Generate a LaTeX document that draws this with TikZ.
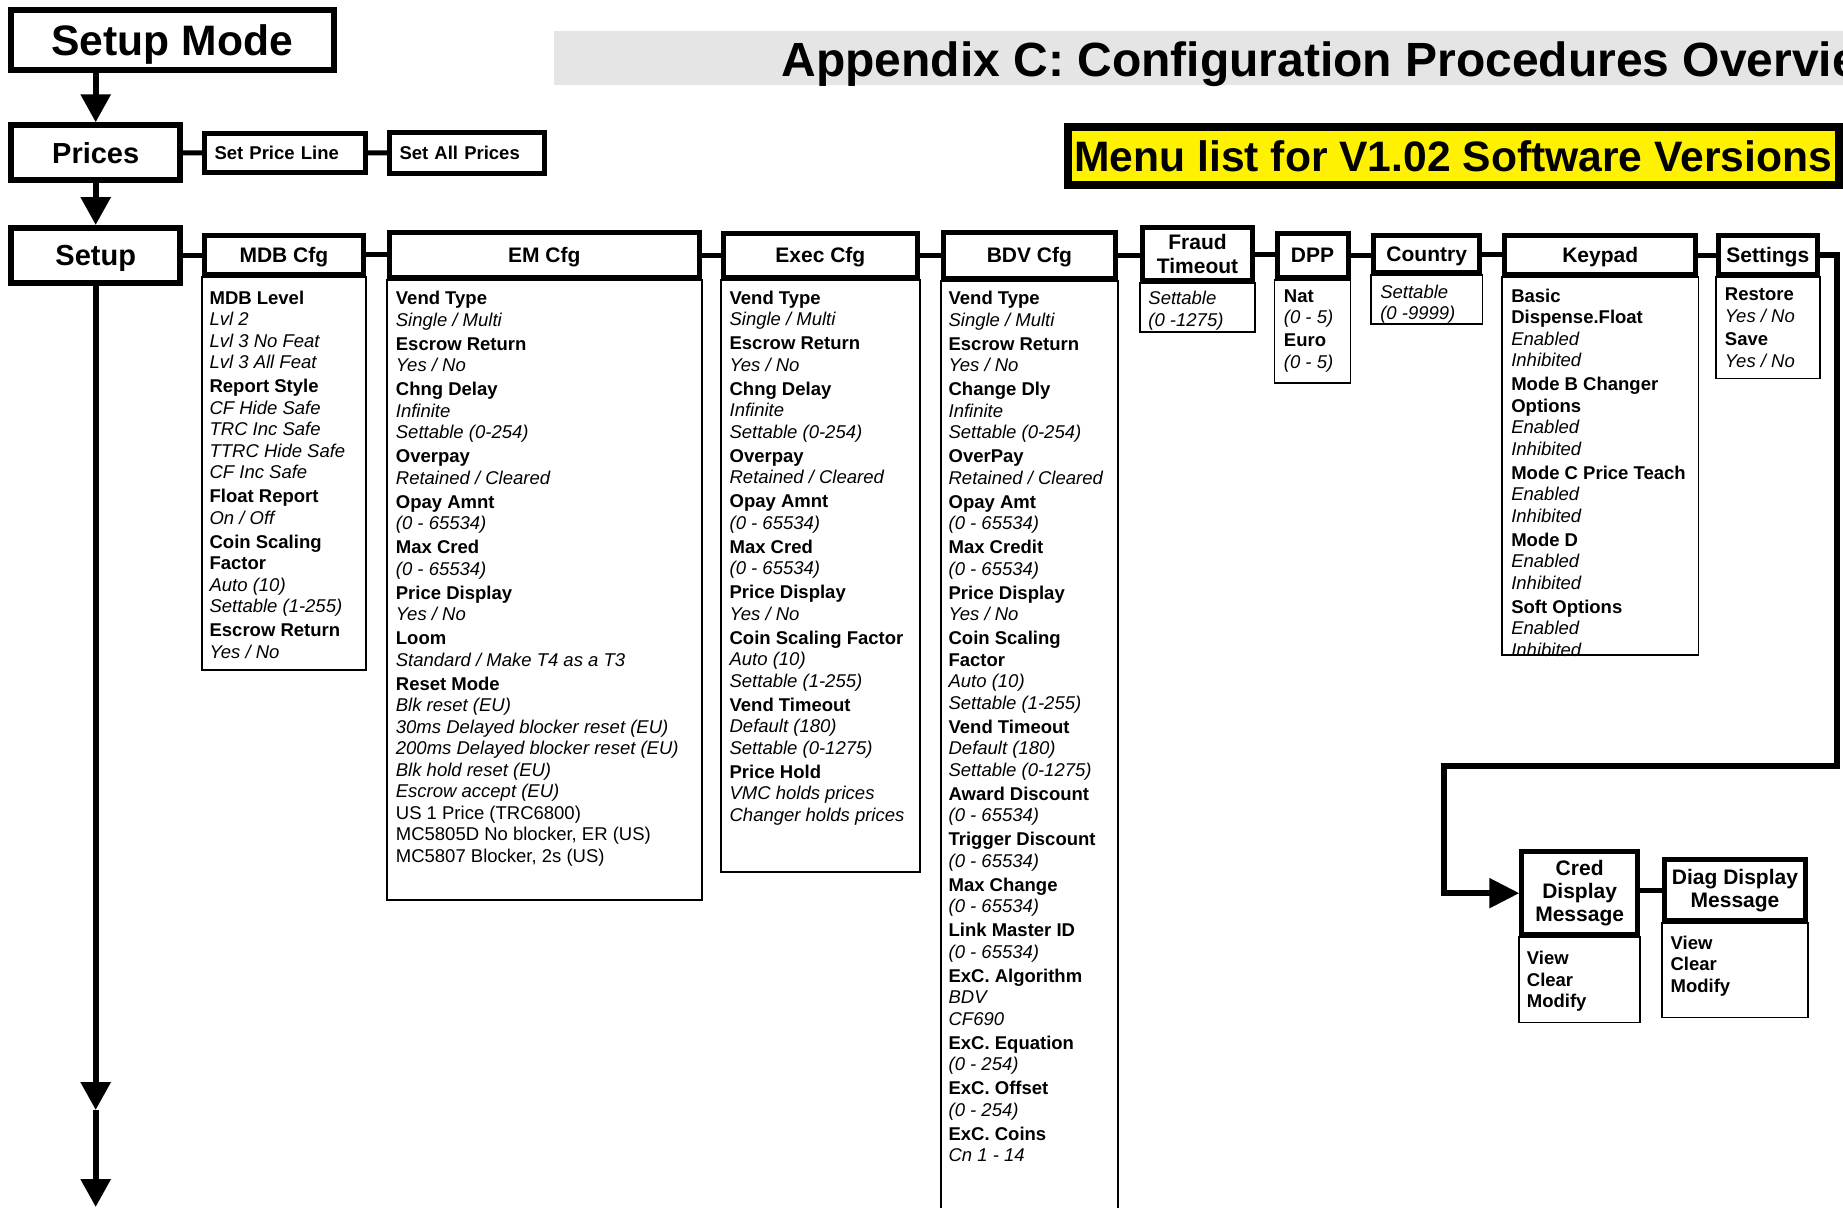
\documentclass[tikz,border=0pt]{standalone}
\usepackage{fontspec}
\setmainfont{Liberation Sans}
\usetikzlibrary{arrows.meta,positioning}

\newcommand{\mkey}[1]{\textbf{#1}}
\newcommand{\mval}[1]{\textit{#1}}

\tikzset{
  bigbox/.style={draw, line width=3pt, inner sep=0pt,
                 font=\bfseries\fontsize{14.5}{17}\selectfont, text height=10.4pt, text depth=0pt},
  hdr/.style={draw, line width=2.5pt, inner sep=0pt, align=center,
              font=\bfseries\fontsize{10.5}{11.7}\selectfont},
  oneline/.style={text height=7.5pt, text depth=0pt},
  sub/.style={draw, line width=2.5pt, inner xsep=5pt, inner ysep=0pt, align=left,
              font=\bfseries\fontsize{9.25}{10.75}\selectfont, text height=6.6pt, text depth=0pt},
  list/.style={inner sep=0pt, align=left, font=\fontsize{9.25}{10.75}\selectfont},
  bodybox/.style={draw, line width=0.85pt},
  link/.style={line width=2.5pt},
  arr/.style={line width=3pt, -{Triangle[width=14.5pt,length=14pt]}}
}

\begin{document}
\begin{tikzpicture}[x=0.5pt, y=-0.5pt]
  \useasboundingbox (0,0) rectangle (1843,1207);
  \clip (0,0) rectangle (1843,1207);

  % heading
  \node[fill=gray!20, minimum width=660pt, minimum height=27pt, inner sep=0pt, anchor=north west] (bar) at (554,31) {};
  \node[font=\bfseries\fontsize{24}{28}\selectfont, inner sep=0pt, anchor=base west] (title) at (781,76) {Appendix C: Configuration Procedures Overview};
  \node[draw, line width=4pt, fill=yellow, minimum width=385.75pt, minimum height=29pt, inner sep=0pt,
        font=\bfseries\fontsize{21.3}{25}\selectfont, text height=15.25pt, text depth=0pt] (menu) at (1453.25,156.3) {Menu list for V1.02 Software Versions};

  % main column
  \node[bigbox, font=\bfseries\fontsize{21.3}{25}\selectfont, text height=15.25pt,
        minimum width=161.5pt, minimum height=29.7pt] (mode) at (172.25,40) {Setup Mode};
  \node[bigbox, minimum width=84.3pt, minimum height=27.5pt] (prices) at (95.7,152.8) {Prices};
  \node[bigbox, minimum width=84.3pt, minimum height=27.5pt] (setup) at (95.7,255.5) {Setup};
  \node[sub, text width=70.5pt, minimum height=19.65pt] (spl) at (285,152.85) {Set Price Line};
  \node[sub, text width=67.5pt, minimum height=20.5pt] (sap) at (467,153) {Set All Prices};
  \coordinate (down1) at (95.7,1110);
  \coordinate (down2) at (95.7,1207);

  \draw[arr] (prices.north |- mode.south) -- (prices.north);
  \draw[arr] (prices) -- (setup);
  \draw[arr] (setup) -- (down1);
  \draw[arr] (down1) -- (down2);
  \draw[link] (prices) -- (spl);
  \draw[link] (spl) -- (sap);

  % setup menus
  \node[hdr, oneline, minimum width=79.65pt, minimum height=19.65pt] (mdb) at (283.85,254.85) {MDB Cfg};
  \node[hdr, oneline, minimum width=155pt, minimum height=22.5pt] (em) at (544.2,255) {EM Cfg};
  \node[hdr, oneline, minimum width=97.15pt, minimum height=22.15pt] (exec) at (820.35,255.35) {Exec Cfg};
  \node[hdr, oneline, minimum width=86.15pt, minimum height=22.85pt] (bdv) at (1029.35,255.35) {BDV Cfg};
  \node[hdr, minimum width=55pt, minimum height=26.65pt] (fraud) at (1197.5,254.15) {Fraud\\Timeout};
  \node[hdr, oneline, minimum width=35.45pt, minimum height=22.15pt] (dpp) at (1312.55,255.35) {DPP};
  \node[hdr, oneline, minimum width=53.2pt, minimum height=18.35pt] (country) at (1426.7,254.15) {Country};
  \node[hdr, oneline, minimum width=95.7pt, minimum height=19.5pt] (keypad) at (1600.2,255.3) {Keypad};
  \node[hdr, oneline, minimum width=49.6pt, minimum height=19.2pt] (settings) at (1767.8,255) {Settings};
  \node[hdr, minimum width=57.85pt, minimum height=41.65pt] (cred) at (1579.65,893.15) {Cred\\Display\\Message};
  \node[hdr, minimum width=70.8pt, minimum height=30.5pt] (diag) at (1735,890.3) {Diag Display\\Message};

  \draw[link] (setup.east) -- (setup.east -| mdb.west);
  \draw[link] (mdb.east) -- (mdb.east -| em.west);
  \draw[link] (em.east) -- (em.east -| exec.west);
  \draw[link] (exec.east) -- (exec.east -| bdv.west);
  \draw[link] (bdv.east) -- (bdv.east -| fraud.west);
  \draw[link] (fraud.east) -- (fraud.east -| dpp.west);
  \draw[link] (dpp.east) -- (dpp.east -| country.west);
  \draw[link] (country.east) -- (country.east -| keypad.west);
  \draw[link] (keypad.east) -- (keypad.east -| settings.west);
  \draw[link] (cred.east |- diag.west) -- (diag.west);

  % settings wraps round to the display messages
  \coordinate (turnr) at (1837,766);
  \coordinate (turnl) at (1444,766);
  \draw[link, line width=2.75pt, -{Triangle[width=14.5pt,length=15pt]}]
    (settings.east) -| (turnr) -- (turnl) |- (cred.west);

  % option frames
  \draw[bodybox] (mdb.south west) rectangle (mdb.south east |- 0,670);
  \draw[bodybox] (em.south west) rectangle (em.south east |- 0,900);
  \draw[bodybox] (exec.south west) rectangle (exec.south east |- 0,872);
  \draw[bodybox] (bdv.south west) rectangle (bdv.south east |- 0,1230);
  \draw[bodybox] (fraud.south west) rectangle (fraud.south east |- 0,332);
  \draw[bodybox] (dpp.south west) rectangle (dpp.south east |- 0,383);
  \draw[bodybox] (country.south west) rectangle (country.south east |- 0,324);
  \draw[bodybox] (keypad.south west) rectangle (keypad.south east |- 0,655);
  \draw[bodybox] (settings.south west) rectangle (settings.south east |- 0,378.5);
  \draw[bodybox] (cred.south west) rectangle (cred.south east |- 0,1022.5);
  \draw[bodybox] (diag.south west) rectangle (diag.south east |- 0,1017.5);

  % option lists
  \node[list, below right=6.6pt and 3.75pt of mdb.south west] (mdblist) {\mkey{MDB Level}\\ \mval{Lvl 2}\\ \mval{Lvl 3 No Feat}\\ \mval{Lvl 3 All Feat}\\[1.25pt]
    \mkey{Report Style}\\ \mval{CF Hide Safe}\\ \mval{TRC Inc Safe}\\ \mval{TTRC Hide Safe}\\ \mval{CF Inc Safe}\\[1.25pt]
    \mkey{Float Report}\\ \mval{On / Off}\\[1.25pt]
    \mkey{Coin Scaling}\\ \mkey{Factor}\\ \mval{Auto (10)}\\ \mval{Settable (1-255)}\\[1.25pt]
    \mkey{Escrow Return}\\ \mval{Yes / No}};
  \node[list, below right=5.35pt and 4.4pt of em.south west] (emlist) {\mkey{Vend Type}\\ \mval{Single / Multi}\\[1.25pt]
    \mkey{Escrow Return}\\ \mval{Yes / No}\\[1.25pt]
    \mkey{Chng Delay}\\ \mval{Infinite}\\ \mval{Settable (0-254)}\\[1.25pt]
    \mkey{Overpay}\\ \mval{Retained / Cleared}\\[1.25pt]
    \mkey{Opay Amnt}\\ \mval{(0 - 65534)}\\[1.25pt]
    \mkey{Max Cred}\\ \mval{(0 - 65534)}\\[1.25pt]
    \mkey{Price Display}\\ \mval{Yes / No}\\[1.25pt]
    \mkey{Loom}\\ \mval{Standard / Make T4 as a T3}\\[1.25pt]
    \mkey{Reset Mode}\\ \mval{Blk reset (EU)}\\ \mval{30ms Delayed blocker reset (EU)}\\ \mval{200ms Delayed blocker reset (EU)}\\
    \mval{Blk hold reset (EU)}\\ \mval{Escrow accept (EU)}\\ US 1 Price (TRC6800)\\ MC5805D No blocker, ER (US)\\ MC5807 Blocker, 2s (US)};
  \node[list, below right=5.1pt and 4.25pt of exec.south west] (execlist) {\mkey{Vend Type}\\ \mval{Single / Multi}\\[1.25pt]
    \mkey{Escrow Return}\\ \mval{Yes / No}\\[1.25pt]
    \mkey{Chng Delay}\\ \mval{Infinite}\\ \mval{Settable (0-254)}\\[1.25pt]
    \mkey{Overpay}\\ \mval{Retained / Cleared}\\[1.25pt]
    \mkey{Opay Amnt}\\ \mval{(0 - 65534)}\\[1.25pt]
    \mkey{Max Cred}\\ \mval{(0 - 65534)}\\[1.25pt]
    \mkey{Price Display}\\ \mval{Yes / No}\\[1.25pt]
    \mkey{Coin Scaling Factor}\\ \mval{Auto (10)}\\ \mval{Settable (1-255)}\\[1.25pt]
    \mkey{Vend Timeout}\\ \mval{Default (180)}\\ \mval{Settable (0-1275)}\\[1.25pt]
    \mkey{Price Hold}\\ \mval{VMC holds prices}\\ \mval{Changer holds prices}};
  \node[list, below right=5.1pt and 3.75pt of bdv.south west] (bdvlist) {\mkey{Vend Type}\\ \mval{Single / Multi}\\[1.25pt]
    \mkey{Escrow Return}\\ \mval{Yes / No}\\[1.25pt]
    \mkey{Change Dly}\\ \mval{Infinite}\\ \mval{Settable (0-254)}\\[1.25pt]
    \mkey{OverPay}\\ \mval{Retained / Cleared}\\[1.25pt]
    \mkey{Opay Amt}\\ \mval{(0 - 65534)}\\[1.25pt]
    \mkey{Max Credit}\\ \mval{(0 - 65534)}\\[1.25pt]
    \mkey{Price Display}\\ \mval{Yes / No}\\[1.25pt]
    \mkey{Coin Scaling}\\ \mkey{Factor}\\ \mval{Auto (10)}\\ \mval{Settable (1-255)}\\[1.25pt]
    \mkey{Vend Timeout}\\ \mval{Default (180)}\\ \mval{Settable (0-1275)}\\[1.25pt]
    \mkey{Award Discount}\\ \mval{(0 - 65534)}\\[1.25pt]
    \mkey{Trigger Discount}\\ \mval{(0 - 65534)}\\[1.25pt]
    \mkey{Max Change}\\ \mval{(0 - 65534)}\\[1.25pt]
    \mkey{Link Master ID}\\ \mval{(0 - 65534)}\\[1.25pt]
    \mkey{ExC. Algorithm}\\ \mval{BDV}\\ \mval{CF690}\\[1.25pt]
    \mkey{ExC. Equation}\\ \mval{(0 - 254)}\\[1.25pt]
    \mkey{ExC. Offset}\\ \mval{(0 - 254)}\\[1.25pt]
    \mkey{ExC. Coins}\\ \mval{Cn 1 - 14}};
  \node[list, below right=3.8pt and 4pt of fraud.south west] (fraudlist) {\mval{Settable}\\ \mval{(0 -1275)}};
  \node[list, below right=4.6pt and 4.45pt of dpp.south west] (dpplist) {\mkey{Nat}\\ \mval{(0 - 5)}\\[0.8pt] \mkey{Euro}\\ \mval{(0 - 5)}};
  \node[list, below right=4.6pt and 4.45pt of country.south west] (countrylist) {\mval{Settable}\\ \mval{(0 -9999)}};
  \node[list, below right=5.6pt and 4.45pt of keypad.south west] (keypadlist) {\mkey{Basic}\\ \mkey{Dispense.Float}\\ \mval{Enabled}\\ \mval{Inhibited}\\[1.25pt]
    \mkey{Mode B Changer}\\ \mkey{Options}\\ \mval{Enabled}\\ \mval{Inhibited}\\[1.25pt]
    \mkey{Mode C Price Teach}\\ \mval{Enabled}\\ \mval{Inhibited}\\[1.25pt]
    \mkey{Mode D}\\ \mval{Enabled}\\ \mval{Inhibited}\\[1.25pt]
    \mkey{Soft Options}\\ \mval{Enabled}\\ \mval{Inhibited}};
  \node[list, below right=5.35pt and 4.4pt of settings.south west] (settingslist) {\mkey{Restore}\\ \mval{Yes / No}\\[1pt] \mkey{Save}\\ \mval{Yes / No}};
  \node[list, below right=6.8pt and 3.6pt of cred.south west] (credlist) {\mkey{View}\\ \mkey{Clear}\\ \mkey{Modify}};
  \node[list, below right=5.95pt and 4.25pt of diag.south west] (diaglist) {\mkey{View}\\ \mkey{Clear}\\ \mkey{Modify}};
\end{tikzpicture}
\end{document}
